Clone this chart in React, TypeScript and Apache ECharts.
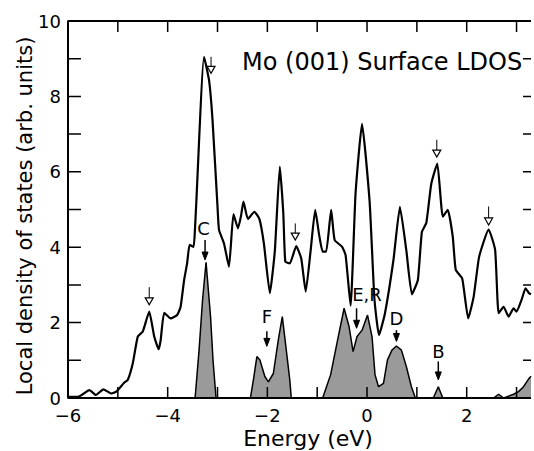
import React, { useEffect, useRef } from "react";
import * as echarts from "echarts";

// Total LDOS curve (energy in eV, value in arb. units)
const ldosE = [
  -6.0, -5.8, -5.57, -5.44, -5.29, -5.13, -5.03, -4.87, -4.8, -4.7, -4.6, -4.5, -4.37, -4.27, -4.18, -4.14,
  -4.07, -3.94, -3.81, -3.74, -3.67, -3.61, -3.56, -3.48, -3.45, -3.43, -3.27, -3.17, -3.1, -3.0, -2.97,
  -2.87, -2.77, -2.68, -2.59, -2.53, -2.48, -2.39, -2.26, -2.16, -2.07, -1.95, -1.85, -1.75, -1.68, -1.64,
  -1.55, -1.42, -1.32, -1.23, -1.13, -1.04, -0.96, -0.89, -0.82, -0.72, -0.65, -0.5, -0.43, -0.33, -0.23,
  -0.1, 0.05, 0.1, 0.15, 0.24, 0.36, 0.53, 0.66, 0.79, 0.9, 1.02, 1.1, 1.19, 1.29, 1.41, 1.52, 1.62, 1.72,
  1.78, 1.91, 2.03, 2.14, 2.25, 2.44, 2.57, 2.64, 2.74, 2.84, 2.94, 3.0, 3.1, 3.18, 3.25, 3.29,
];
const ldosV = [
  0.03, 0.03, 0.21, 0.08, 0.23, 0.12, 0.17, 0.41, 0.48, 0.92, 1.63, 1.76, 2.29, 1.63, 1.29, 1.54,
  2.26, 2.11, 2.2, 2.42, 3.13, 3.57, 4.06, 4.01, 4.54, 5.07, 9.05, 8.43, 7.37, 5.07, 4.46,
  4.1, 3.48, 4.88, 4.5, 4.82, 5.21, 4.75, 4.94, 4.75, 4.1, 2.78, 3.9, 6.14, 4.9, 3.62,
  3.57, 4.03, 3.7, 2.82, 3.93, 4.99, 4.32, 3.88, 3.88, 4.99, 4.19, 4.01, 3.79, 2.45, 5.43,
  7.27, 5.25, 3.93, 2.6, 1.67, 2.25, 3.66, 5.07, 3.9, 2.75, 3.13, 4.4, 4.65, 5.69, 6.22, 4.81, 4.99, 4.28,
  3.4, 3.17, 2.11, 2.69, 3.75, 4.47, 3.93, 2.25, 2.42, 2.16, 2.38, 2.29, 2.6, 2.91, 2.78, 2.75,
];

// Shaded surface-state bands
const bandE = [
  -3.45, -3.37, -3.3, -3.23, -3.14, -3.09, -3.03,
  -2.34, -2.28, -2.21, -2.15, -2.05, -1.98, -1.88, -1.78, -1.7, -1.62, -1.55, -1.52,
  -0.89, -0.73, -0.59, -0.46, -0.36, -0.28, -0.2, -0.1, 0.01, 0.1, 0.16, 0.23, 0.33, 0.41, 0.5, 0.59, 0.69, 0.79, 0.89, 0.97,
  1.33, 1.43, 1.52,
  2.54, 2.64, 2.74, 2.84, 2.94, 3.04, 3.14, 3.25, 3.29,
];
const bandV = [
  0, 1.27, 2.6, 3.6, 2.16, 1.0, 0,
  0, 0.48, 1.1, 1.01, 0.57, 0.43, 0.65, 1.54, 2.16, 1.27, 0.48, 0,
  0, 0.62, 1.54, 2.38, 1.89, 1.23, 1.63, 1.8, 2.2, 1.63, 0.62, 0.3, 0.39, 1.01, 1.27, 1.38, 1.27, 0.83, 0.3, 0,
  0, 0.3, 0,
  0, 0.1, 0, 0.05, 0.1, 0.17, 0.3, 0.52, 0.58,
];

// Open-headed arrows on the total LDOS
const openArrowE = [-4.37, -3.13, -1.44, 1.4, 2.44];
const openArrowTop = [2.94, 9.05, 4.63, 6.85, 5.08];
const openArrowTip = [2.47, 8.61, 4.19, 6.39, 4.59];

// Labelled filled arrows on the bands
const bandLabels = ["C", "F", "E,R", "D", "B"];
const bandArrowE = [-3.25, -2.01, -0.21, 0.59, 1.43];
const bandArrowTop = [4.19, 1.77, 2.38, 1.8, 0.97];
const bandArrowTip = [3.66, 1.37, 1.85, 1.5, 0.48];
const bandLabelE = [-3.28, -2.01, 0.0, 0.59, 1.43];
const bandLabelV = [4.5, 2.17, 2.74, 2.12, 1.23];

// Axes: extents and ticks
const X_MIN = -6;
const X_MAX = 3.29;
const Y_MIN = 0;
const Y_MAX = 10;
const xTicks = [-6, -4, -2, 0, 2];
const yTicks = [0, 2, 4, 6, 8, 10];
const xMinorTicks = [-5, -4, -3, -2, -1, 0, 1, 2, 3];
const yMinorTicks = [1, 2, 3, 4, 5, 6, 7, 8, 9];

const FONT = "DejaVu Sans";

export default function App() {
  const ref = useRef<HTMLDivElement>(null);
  useEffect(() => {
    if (!ref.current) return;
    const chart = echarts.init(ref.current, undefined, { renderer: "svg" });
    const xFmt = (v: number) =>
      xTicks.includes(v) ? (v < 0 ? "\u2212" + Math.abs(v) : String(v)) : "";
    const yFmt = (v: number) => (yTicks.includes(v) ? String(v) : "");
    const noLine = { show: false, onZero: false };
    const noTick = { show: false };

    const openData = openArrowE.map((e, i) => [e, openArrowTop[i], openArrowTip[i]]);
    const bandArrowData = bandArrowE.map((e, i) => [
      e, bandArrowTop[i], bandArrowTip[i], bandLabelE[i], bandLabelV[i],
    ]);

    // frame drawn as a series through the axes
    const frameData: any[] = [[X_MAX, Y_MAX], [X_MIN, Y_MAX], [X_MIN, Y_MIN], [X_MAX, Y_MIN]];
    // tick lengths expressed in axis units (about 11px vertical, 13px / 8px horizontal)
    const tickY = 0.29, tickXL = 0.26, tickXR = 0.16;
    const gap = ["-", "-"];
    const tickData: any[] = [];
    xMinorTicks.forEach((v) => {
      tickData.push([v, Y_MIN], [v, Y_MIN + tickY], gap, [v, Y_MAX], [v, Y_MAX - tickY], gap);
    });
    yMinorTicks.forEach((v) => {
      tickData.push([X_MIN, v], [X_MIN + tickXL, v], gap, [X_MAX, v], [X_MAX - tickXR, v], gap);
    });

    chart.setOption({
      animation: false,
      grid: { left: 68, right: -2, top: 21, bottom: 53 },
      xAxis: {
        type: "value", min: X_MIN, max: X_MAX, interval: 1, position: "bottom",
        axisLine: noLine, axisTick: noTick,
        axisLabel: { formatter: xFmt, fontSize: 18, color: "#000", margin: 8, fontFamily: FONT },
        splitLine: { show: false },
      },
      yAxis: {
        type: "value", min: Y_MIN, max: Y_MAX, interval: 1, position: "left",
        axisLine: noLine, axisTick: noTick,
        axisLabel: { formatter: yFmt, fontSize: 18, color: "#000", margin: 7, fontFamily: FONT },
        splitLine: { show: false },
      },
      series: [
        {
          type: "line",
          data: bandE.map((e, i) => [e, bandV[i]]),
          showSymbol: false,
          lineStyle: { color: "#000", width: 1.5 },
          areaStyle: { color: "#9a9a9a", opacity: 1 },
          z: 2,
        },
        {
          type: "line",
          data: ldosE.map((e, i) => [e, ldosV[i]]),
          showSymbol: false,
          smooth: 0.15,
          lineStyle: { color: "#000", width: 2.2 },
          z: 3,
        },
        {
          type: "line",
          data: frameData,
          showSymbol: false,
          clip: false,
          silent: true,
          lineStyle: { color: "#000", width: 2 },
          z: 8,
        },
        {
          type: "line",
          data: tickData,
          showSymbol: false,
          connectNulls: false,
          clip: false,
          silent: true,
          lineStyle: { color: "#000", width: 1.5 },
          z: 8,
        },
        {
          type: "custom",
          data: openData,
          clip: false,
          z: 4,
          renderItem: (params: any, api: any) => {
            const x = api.value(0);
            const top = api.coord([x, api.value(1)]);
            const tip = api.coord([x, api.value(2)]);
            const h = 7, w = 8;
            return {
              type: "group",
              children: [
                { type: "line", shape: { x1: top[0], y1: top[1], x2: tip[0], y2: tip[1] - h }, style: { stroke: "#000", lineWidth: 1 } },
                {
                  type: "polygon",
                  shape: { points: [[tip[0] - w / 2, tip[1] - h], [tip[0] + w / 2, tip[1] - h], [tip[0], tip[1]]] },
                  style: { fill: "#fff", stroke: "#000", lineWidth: 1.2 },
                },
              ],
            };
          },
        },
        {
          type: "custom",
          data: bandArrowData,
          clip: false,
          z: 4,
          renderItem: (params: any, api: any) => {
            const x = api.value(0);
            const top = api.coord([x, api.value(1)]);
            const tip = api.coord([x, api.value(2)]);
            const lab = api.coord([api.value(3), api.value(4)]);
            const h = 8, w = 6;
            return {
              type: "group",
              children: [
                { type: "line", shape: { x1: top[0], y1: top[1], x2: tip[0], y2: tip[1] - h + 1 }, style: { stroke: "#000", lineWidth: 1.5 } },
                {
                  type: "polygon",
                  shape: { points: [[tip[0] - w / 2, tip[1] - h], [tip[0] + w / 2, tip[1] - h], [tip[0], tip[1]]] },
                  style: { fill: "#000", stroke: "#000", lineWidth: 1 },
                },
                {
                  type: "text",
                  x: lab[0], y: lab[1],
                  style: {
                    text: bandLabels[params.dataIndex], fill: "#000",
                    font: `18px ${FONT}`, textAlign: "center", textVerticalAlign: "middle",
                  },
                },
              ],
            };
          },
        },
      ],
      graphic: [
        {
          type: "text", left: 242, top: 50, z: 100,
          style: { text: "Mo (001) Surface LDOS", font: `24px ${FONT}`, fill: "#000" },
        },
        {
          type: "text", x: 308, y: 438, z: 100,
          style: { text: "Energy (eV)", font: `22px ${FONT}`, fill: "#000", textAlign: "center", textVerticalAlign: "middle" },
        },
        {
          type: "text", x: 25, y: 216, rotation: Math.PI / 2, z: 100,
          style: { text: "Local density of states (arb. units)", font: `21px ${FONT}`, fill: "#000", textAlign: "center", textVerticalAlign: "middle" },
        },
      ],
    });
    return () => chart.dispose();
  }, []);
  return (
    <div
      ref={ref}
      style={{ position: "fixed", left: 0, top: 0, width: 534, height: 451, background: "#fff" }}
    />
  );
}
